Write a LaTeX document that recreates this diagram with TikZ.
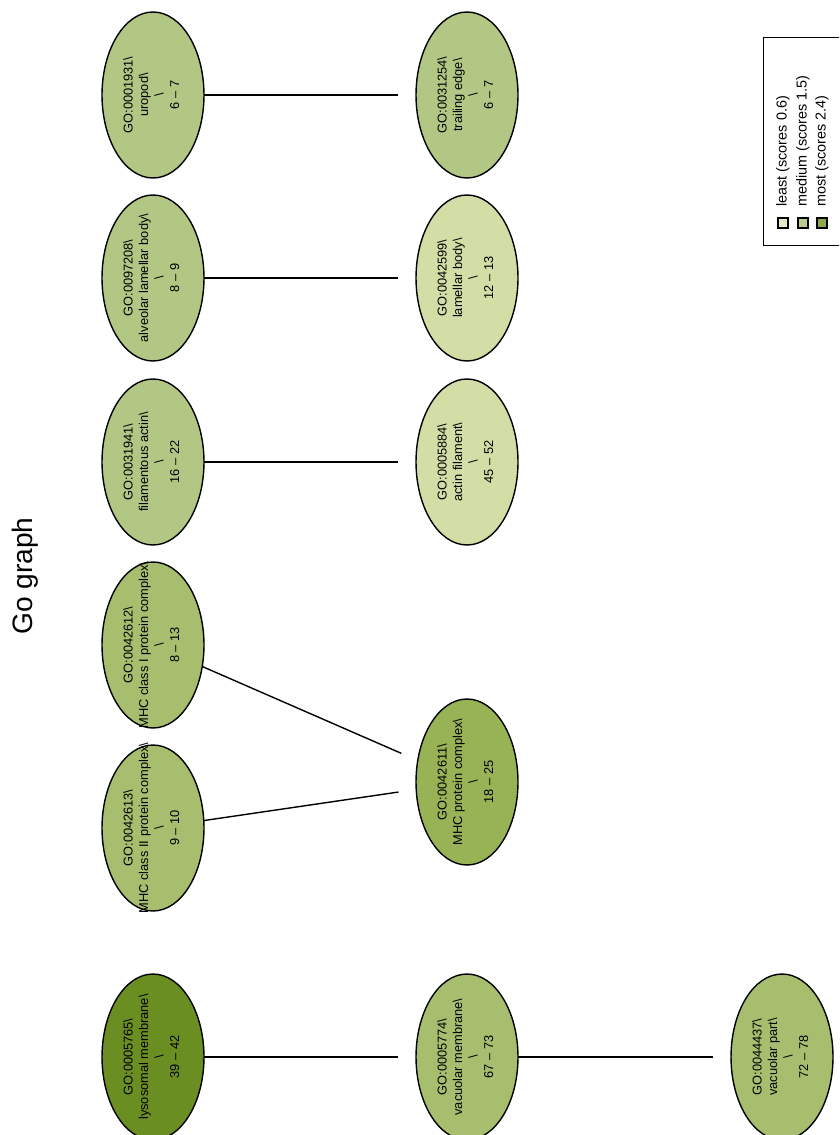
\documentclass[tikz,border=0pt]{standalone}
\usepackage{fontspec}
\setmainfont{Liberation Sans}
\usetikzlibrary{shapes.geometric}
\definecolor{cLeast}{HTML}{D3DEA6}
\definecolor{cLow}{HTML}{B3C785}
\definecolor{cMid}{HTML}{A8BE6F}
\definecolor{cHigh}{HTML}{98B256}
\definecolor{cTop}{HTML}{6B8E23}
\definecolor{lgLeast}{HTML}{E2EAC6}
\definecolor{lgMid}{HTML}{BACD8C}
\definecolor{lgMost}{HTML}{8CA84C}
\newcommand\golab[3]{\makebox[0pt]{\raisebox{-3.2pt}{\smash{\fontsize{7.3}{8.8}\selectfont\renewcommand\arraystretch{1}\begin{tabular}{@{}c@{}}GO:#1\textbackslash\\#2\textbackslash\\\textbackslash\\#3\end{tabular}}}}}
\tikzset{
  goterm/.style={ellipse, draw=black, line width=0.8pt, rotate=90,
    minimum width=3.32cm, minimum height=2.04cm, inner sep=0pt, outer sep=0pt},
  goedge/.style={draw=black, line width=0.8pt, shorten >=0.36cm},
  legsq/.style={draw=black, line width=0.6pt, minimum size=0.2cm, inner sep=0pt},
  legtxt/.style={rotate=90, anchor=west, inner sep=0pt, font=\fontsize{8.2}{9.8}\selectfont}
}
\begin{document}
\begin{tikzpicture}[x=0.02cm,y=-0.02cm]
\useasboundingbox (0,0) rectangle (839,1135);
\clip (0,0) rectangle (839,1135);
\node[rotate=90, inner sep=0pt, font=\fontsize{16}{19}\selectfont] (title) at (25,576) {Go graph};
% left column
\node[goterm, fill=cLow] (n1) at (153,95) {\golab{0001931}{uropod}{6 – 7}};
\node[goterm, fill=cLow] (n2) at (153,278) {\golab{0097208}{alveolar lamellar body}{8 – 9}};
\node[goterm, fill=cLow] (n3) at (153,462) {\golab{0031941}{filamentous actin}{16 – 22}};
\node[goterm, fill=cMid] (n4) at (153,645) {\golab{0042612}{MHC class I protein complex}{8 – 13}};
\node[goterm, fill=cMid] (n5) at (153,828) {\golab{0042613}{MHC class II protein complex}{9 – 10}};
\node[goterm, fill=cTop] (n6) at (153,1057) {\golab{0005765}{lysosomal membrane}{39 – 42}};
% middle column
\node[goterm, fill=cLow] (m1) at (467,95) {\golab{0031254}{trailing edge}{6 – 7}};
\node[goterm, fill=cLeast] (m2) at (467,278) {\golab{0042599}{lamellar body}{12 – 13}};
\node[goterm, fill=cLeast] (m3) at (467,462) {\golab{0005884}{actin filament}{45 – 52}};
\node[goterm, fill=cHigh] (m4) at (467,782) {\golab{0042611}{MHC protein complex}{18 – 25}};
\node[goterm, fill=cMid] (m5) at (467,1057) {\golab{0005774}{vacuolar membrane}{67 – 73}};
% right column
\node[goterm, fill=cMid] (p1) at (782,1057) {\golab{0044437}{vacuolar part}{72 – 78}};
% edges
\draw[goedge] (n1) -- (m1);
\draw[goedge] (n2) -- (m2);
\draw[goedge] (n3) -- (m3);
\draw[goedge] (n4) -- (m4);
\draw[goedge] (n5) -- (m4);
\draw[goedge] (n6) -- (m5);
\draw[goedge] (m5) -- (p1);
% legend
\node[draw=black, line width=0.6pt, minimum width=2.0cm, minimum height=4.16cm, inner sep=0pt, anchor=north west] (legend) at (763,37) {};
\node[legsq, fill=lgLeast] (s1) at (783,223) {};
\node[legsq, fill=lgMid] (s2) at (803,223) {};
\node[legsq, fill=lgMost] (s3) at (822,223) {};
\node[legtxt] (t1) at (783,207) {least (scores 0.6)};
\node[legtxt] (t2) at (803,207) {medium (scores 1.5)};
\node[legtxt] (t3) at (822,207) {most (scores 2.4)};
\end{tikzpicture}
\end{document}
